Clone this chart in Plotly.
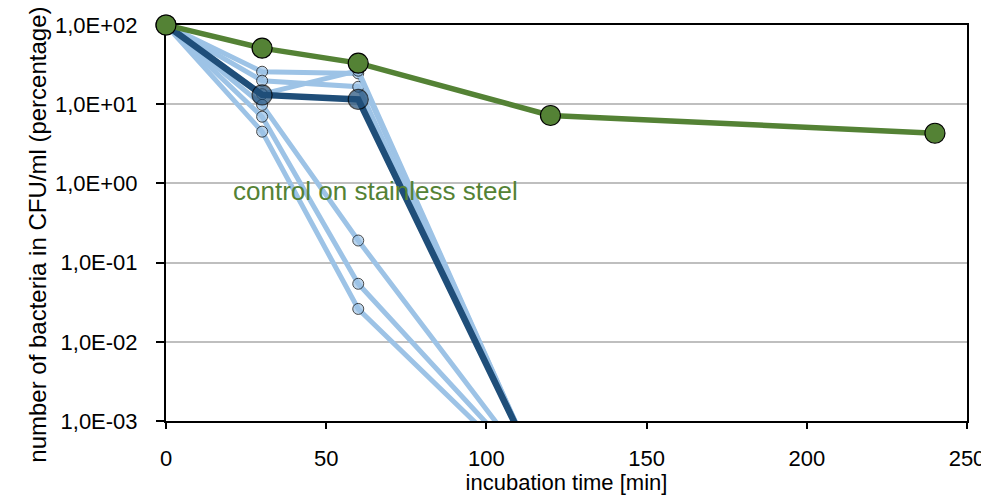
import plotly.graph_objects as go

# ---- data ----
time_treated = [0, 30, 60, 120]
light_1 = [100, 25.7, 24.5, 1.0e-4]
light_2 = [100, 19.8, 16.6, 1.0e-4]
light_3 = [100, 13.4, 26.5, 1.0e-4]
light_4 = [100, 9.8, 0.19, 1.2e-4]
light_5 = [100, 6.95, 0.054, 1.25e-4]
light_6 = [100, 4.5, 0.026, 1.15e-4]
dark_mean = [100, 13.1, 11.5, 1.1e-4]

time_control = [0, 30, 60, 120, 240]
control_steel = [100, 51, 33, 7.2, 4.3]

x_ticks = [0, 50, 100, 150, 200, 250]
y_tickvals = [1e-3, 1e-2, 1e-1, 1e0, 1e1, 1e2]
y_ticktext = ["1,0E-03", "1,0E-02", "1,0E-01", "1,0E+00", "1,0E+01", "1,0E+02"]

GREEN = "#548235"
DARK = "#1F4E79"
LIGHT = "#9DC3E6"
FONT = "Liberation Sans Narrow, Arial Narrow, Liberation Sans, Arial, sans-serif"

fig = go.Figure()

for s in [light_1, light_2, light_3, light_4, light_5, light_6]:
    fig.add_trace(go.Scatter(
        x=time_treated, y=s, mode="lines+markers",
        line=dict(color=LIGHT, width=5),
        marker=dict(size=[11, 11, 11, 0], color=LIGHT, line=dict(color="black", width=1)),
        cliponaxis=False, showlegend=False, hoverinfo="skip"))

fig.add_trace(go.Scatter(
    x=time_treated, y=dark_mean, mode="lines+markers",
    line=dict(color=DARK, width=6.5),
    marker=dict(size=[20, 20, 20, 0], color=DARK, line=dict(color="black", width=1.2)),
    cliponaxis=False, showlegend=False))

fig.add_trace(go.Scatter(
    x=time_control, y=control_steel, mode="lines+markers",
    line=dict(color=GREEN, width=5.5),
    marker=dict(size=20, color=GREEN, line=dict(color="black", width=1.2)),
    cliponaxis=False, showlegend=False))

fig.add_annotation(x=65.4, y=-0.1, xref="x", yref="y", text="control on stainless steel",
                   showarrow=False, font=dict(family=FONT, size=26, color=GREEN))

# y-axis title placed as a rotated annotation (slightly below the plot's centre, as in the original)
fig.add_annotation(x=-0.16, y=0.47, xref="paper", yref="paper",
                   text="number of bacteria in CFU/ml (percentage)", textangle=-90,
                   showarrow=False, xanchor="center", yanchor="middle",
                   font=dict(family=FONT, size=24, color="black"))

# the page body adds an 8px offset, so the figure is sized to fit the 989x495 window
fig.update_layout(
    width=981, height=487,
    margin=dict(l=158, r=22, t=17, b=74),
    plot_bgcolor="white", paper_bgcolor="white",
    font=dict(family=FONT, size=22, color="black"),
    xaxis=dict(range=[0, 250], tickvals=x_ticks, ticks="outside", ticklen=6, tickwidth=2,
               tickcolor="black", showline=True, linewidth=2, linecolor="black", mirror=True,
               showgrid=False, zeroline=False, layer="below traces", automargin=False,
               ticklabelstandoff=11, ticklabeloverflow="allow",
               title=dict(text="incubation time [min]", font=dict(size=22), standoff=6)),
    xaxis2=dict(range=[0, 250], tickvals=x_ticks, ticks="inside", ticklen=6, tickwidth=2,
                tickcolor="black", overlaying="x", anchor="y", side="bottom",
                showticklabels=False, showgrid=False, showline=False, zeroline=False,
                layer="below traces", automargin=False),
    yaxis=dict(type="log", range=[-3, 2], tickvals=y_tickvals, ticktext=y_ticktext,
               ticks="outside", ticklen=8, tickwidth=2, tickcolor="black",
               showline=True, linewidth=2, linecolor="black", mirror=True,
               showgrid=True, gridcolor="#BFBFBF", gridwidth=2, zeroline=False,
               layer="below traces", ticklabelstandoff=14, automargin=False),
)

fig.write_html("out.html")
